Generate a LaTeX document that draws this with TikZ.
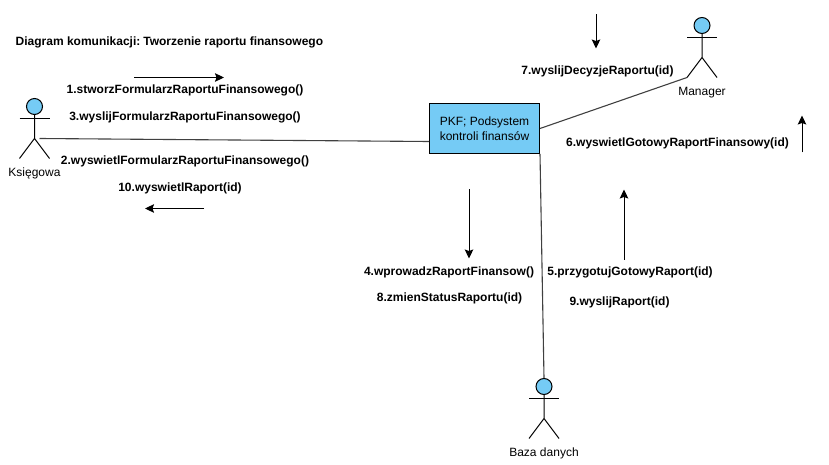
\documentclass[tikz,border=0pt]{standalone}
\usepackage{fontspec}
\setmainfont{Liberation Sans}
\usetikzlibrary{arrows.meta}
\definecolor{actorblue}{HTML}{75CBF5}
\tikzset{
  msg/.style={font=\fontsize{12}{14}\selectfont\bfseries, inner sep=0pt, yshift=-1pt},
  caption/.style={font=\fontsize{12}{14}\selectfont, inner sep=0pt, yshift=-1pt},
  link/.style={draw=black!75, line width=1.1pt},
  flow/.style={-{Stealth[length=9pt,width=8.5pt,inset=1.5pt]}, line width=1pt},
}
% one stick figure: name, head x, head y, text below it
\newcommand{\stickman}[4]{%
  \node[circle, draw, fill=actorblue, minimum size=16pt, inner sep=0pt, line width=1pt] (#1) at (#2,#3) {};
  \coordinate (#1hip) at (#2,#3+32);
  \coordinate (#1left) at (#2-15,#3+52);
  \coordinate (#1right) at (#2+15,#3+52);
  \draw[line width=1pt] (#1.south) -- (#1hip) -- (#1left) (#1hip) -- (#1right);
  \draw[line width=1pt] (#2-15,#3+12) -- (#2+15,#3+12);
  \node[caption] (#1text) at (#2,#3+66) {#4};
}
\begin{document}
\begin{tikzpicture}[x=1pt, y=-1pt]%
   \useasboundingbox (0,-0.5) rectangle (829,464.5);

   % Title
   \node[msg, anchor=west] (title) at (15.5,41) {Diagram komunikacji:\hspace{-1.5pt} Tworzenie raportu finansowego};

   % Actors
   \stickman{ksiegowa}{34.5}{106}{Księgowa}
   \stickman{manager}{702}{25}{Manager}
   \stickman{baza}{544}{386}{Baza danych}

   % Subsystem box
   \node[draw, fill=actorblue, line width=1pt, minimum width=110pt, minimum height=50pt, inner sep=0pt,
         align=center, font=\fontsize{12}{15}\selectfont] (pkf) at (484.5,128)
         {PKF; Podsystem\\kontroli finansów};

   % Links
   \coordinate (ksiegowaend) at (39.5,138);
   \draw[link] (ksiegowaend) -- (pkf.west |- 0,141);
   \draw[link] (pkf.east) -- (managerleft);
   \draw[link] (pkf.south east) -- (baza.north);

   % Messages
   \node[msg] (m1) at (185,89) {1.stworzFormularzRaportuFinansowego()};
   \node[msg] (m3) at (185,116) {3.wyslijFormularzRaportuFinansowego()};
   \node[msg] (m2) at (185,160) {2.wyswietlFormularzRaportuFinansowego()};
   \node[msg] (m10) at (180,187) {10.wyswietlRaport(id)};
   \node[msg] (m4) at (449,271) {4.wprowadzRaportFinansow()};
   \node[msg] (m8) at (449.5,297) {8.zmienStatusRaportu(id)};
   \node[msg] (m5) at (630,271) {5.przygotujGotowyRaport(id)};
   \node[msg] (m9) at (619.5,301) {9.wyslijRaport(id)};
   \node[msg] (m7) at (597.5,70) {7.wyslijDecyzjeRaportu(id)};
   \node[msg] (m6) at (677.5,142) {6.wyswietlGotowyRaportFinansowy(id)};

   % Direction arrows
   \coordinate (a1) at (134,77);   \coordinate (b1) at (224,77);
   \coordinate (a2) at (204,208);  \coordinate (b2) at (145,208);
   \coordinate (a3) at (469,189);  \coordinate (b3) at (469,258);
   \coordinate (a4) at (624,259);  \coordinate (b4) at (624,189);
   \coordinate (a5) at (596,14);   \coordinate (b5) at (596,48);
   \coordinate (a6) at (802,152);  \coordinate (b6) at (802,115);
   \foreach \i in {1,...,6}
     \draw[flow] (a\i) -- (b\i);
\end{tikzpicture}
\end{document}
